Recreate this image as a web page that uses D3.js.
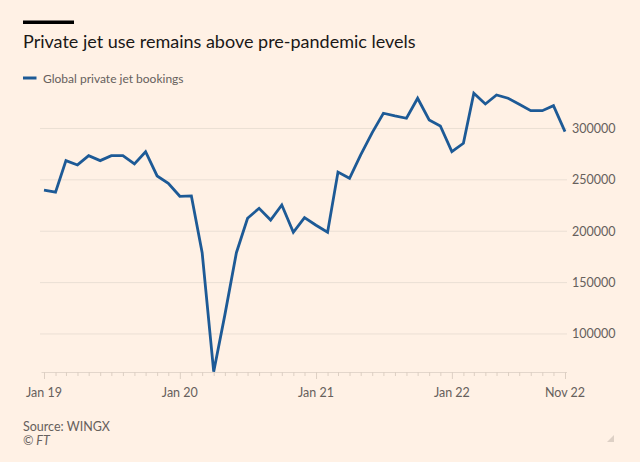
<!DOCTYPE html>
<html>
<head>
<meta charset="utf-8">
<script src="https://cdn.jsdelivr.net/npm/d3@7"></script>
<style>
  html, body { margin: 0; padding: 0; background: #fff1e5; }
  svg { display: block; font-family: "Lato", "Open Sans", sans-serif; }
</style>
</head>
<body>
<svg id="chart" width="640" height="462"></svg>
<script>
// monthly bookings, Jan 2019 .. Nov 2022
var months = d3.timeMonths(new Date(2019, 0, 1), new Date(2022, 11, 1));
var bookings = [
  240000, 238000, 268700, 264500, 273500, 268700, 273500, 273500, 265500, 277400, 253800, 246700,
  234000, 234300, 179100, 63300, 118600, 179100, 212600, 222300, 210900, 225500, 199000, 213200,
  205800, 199000, 257500, 251500, 274200, 295900, 314800, 312200, 309900, 329400, 308300, 302500,
  277400, 285600, 334300, 323800, 332600, 329400, 323600, 317300, 317300, 322200, 296900
];
var yTicks = [100000, 150000, 200000, 250000, 300000];
var xLabels = [
  [new Date(2019, 0, 1), "Jan 19"],
  [new Date(2020, 0, 1), "Jan 20"],
  [new Date(2021, 0, 1), "Jan 21"],
  [new Date(2022, 0, 1), "Jan 22"],
  [new Date(2022, 10, 1), "Nov 22"]
];

var svg = d3.select("#chart");

var x = d3.scaleTime()
    .domain([months[0], months[months.length - 1]])
    .range([44, 565]);

var y = d3.scaleLinear()
    .domain([63000, 342000])
    .range([372, 85.3]);

// header
svg.append("rect")
    .attr("x", 23).attr("y", 20.5)
    .attr("width", 51).attr("height", 3.5)
    .attr("fill", "#000");

svg.append("text")
    .attr("x", 23).attr("y", 48)
    .attr("font-size", 18)
    .attr("fill", "#1a1817")
    .text("Private jet use remains above pre-pandemic levels");

svg.append("line")
    .attr("x1", 23).attr("x2", 36.5)
    .attr("y1", 78).attr("y2", 78)
    .attr("stroke", "#1d5a96").attr("stroke-width", 3);

svg.append("text")
    .attr("x", 43).attr("y", 82.5)
    .attr("font-size", 12)
    .attr("fill", "#66605c")
    .text("Global private jet bookings");

// gridlines + right hand labels
var grid = svg.append("g");
grid.selectAll("line")
    .data(yTicks)
  .enter().append("line")
    .attr("x1", 40).attr("x2", 567)
    .attr("y1", function(d) { return y(d); })
    .attr("y2", function(d) { return y(d); })
    .attr("stroke", "#ebdfd4").attr("stroke-width", 1);

grid.selectAll("text")
    .data(yTicks)
  .enter().append("text")
    .attr("x", 572)
    .attr("y", function(d) { return y(d); })
    .attr("dy", "0.35em")
    .attr("font-size", 12.5)
    .attr("fill", "#66605c")
    .text(function(d) { return d; });

// x axis, a tick every month
var labelled = xLabels.map(function(d) { return +d[0]; });
var xAxis = svg.append("g")
    .attr("transform", "translate(0,372)")
    .call(d3.axisBottom(x)
        .ticks(d3.timeMonth.every(1))
        .tickSize(4)
        .tickSizeOuter(0)
        .tickFormat(""));

xAxis.select(".domain")
    .attr("stroke", "#e3d6cb")
    .attr("d", "M" + (x(months[0]) - 2.5) + ",0.5H" + (x(months[months.length - 1]) + 2));
xAxis.selectAll(".tick line")
    .attr("stroke", "#ddcfc3")
    .attr("y2", function(d) { return labelled.indexOf(+d) >= 0 ? 7 : 4; });

svg.append("g").selectAll("text")
    .data(xLabels)
  .enter().append("text")
    .attr("x", function(d) { return x(d[0]); })
    .attr("y", 397)
    .attr("text-anchor", "middle")
    .attr("font-size", 12.5)
    .attr("fill", "#66605c")
    .text(function(d) { return d[1]; });

// the series
var line = d3.line()
    .x(function(d, i) { return x(months[i]); })
    .y(function(d) { return y(d); });

svg.append("path")
    .datum(bookings)
    .attr("d", line)
    .attr("fill", "none")
    .attr("stroke", "#1d5a96")
    .attr("stroke-width", 2.8)
    .attr("stroke-linejoin", "miter");

// footer
svg.append("text")
    .attr("x", 23).attr("y", 430.5)
    .attr("font-size", 12.5)
    .attr("fill", "#66605c")
    .text("Source: WINGX");

svg.append("text")
    .attr("x", 23).attr("y", 445)
    .attr("font-size", 12.5)
    .attr("font-style", "italic")
    .attr("fill", "#66605c")
    .text("\u00a9 FT");

svg.append("path")
    .attr("d", "M614,435L614,442L607,442Z")
    .attr("fill", "#ddd0c5");
</script>
</body>
</html>
